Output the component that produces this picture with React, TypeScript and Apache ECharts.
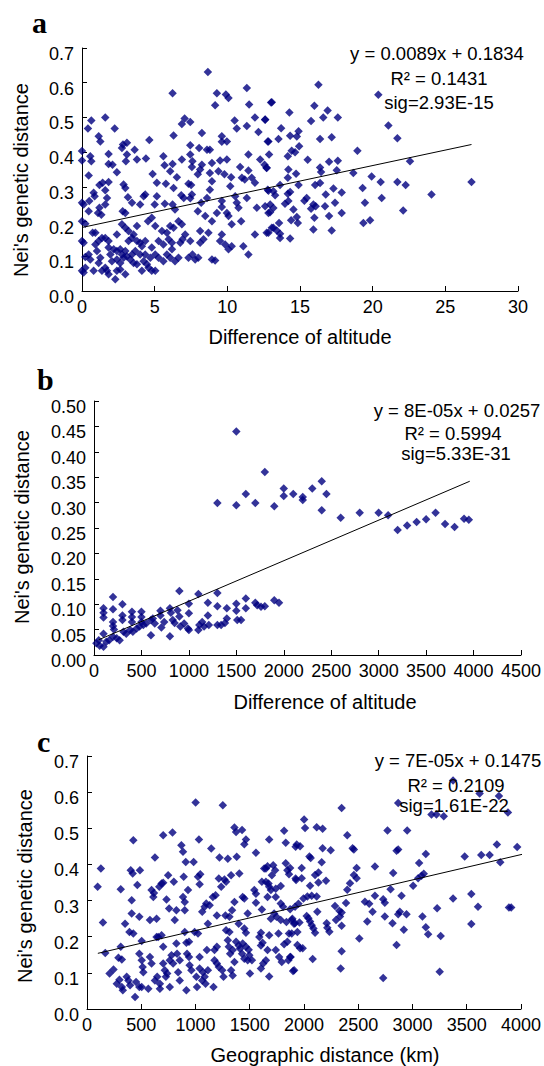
import { useEffect, useRef } from "react";
import * as echarts from "echarts";

const aPoints: number[][] = [
[8.66,0.631],[6.23,0.570],[9.28,0.570],[9.9,0.566],[10.08,0.556],[11.34,0.585],[9.16,0.535],[11.5,0.537],[13.06,0.544],[0.64,0.491],[0.41,0.468],[1.6,0.500],[2.25,0.468],[7.06,0.497],[6.87,0.481],[7.45,0.487],[10.5,0.491],[10.65,0.468],[11.9,0.500],[12.6,0.494],[12.14,0.458],[11.34,0.475],[1.15,0.446],[1.26,0.431],[4.63,0.435],[6.3,0.448],[2.82,0.422],[3.09,0.427],[2.75,0.412],[3.62,0.407],[1.83,0.395],[0,0.403],[0,0.376],[0.57,0.388],[0.64,0.374],[0.46,0.333],[3.09,0.393],[3.02,0.374],[3.78,0.379],[4.4,0.382],[1.83,0.366],[2.1,0.364],[2.4,0.342],[5.6,0.388],[7.45,0.42],[8.06,0.412],[8.6,0.407],[8.8,0.407],[8.25,0.455],[9.62,0.446],[9.62,0.43],[9.97,0.431],[7.45,0.393],[7.6,0.374],[7.56,0.357],[8.25,0.364],[8.13,0.35],[8.94,0.369],[9.5,0.376],[9.97,0.379],[6.87,0.379],[5.68,0.362],[6.23,0.366],[6.07,0.345],[6.53,0.328],[4.86,0.337],[5.15,0.312],[5.77,0.309],[6.3,0.297],[7.33,0.309],[7.51,0.305],[7.97,0.336],[8.8,0.34],[9.39,0.345],[8.94,0.316],[9.8,0.336],[10.26,0.328],[10.2,0.302],[10.88,0.357],[11.45,0.347],[11.0,0.326],[11.2,0.321],[11.68,0.326],[12.26,0.379],[12.56,0.364],[12.7,0.355],[12.87,0.393],[11.45,0.393],[12.78,0.431],[11.9,0.312],[12.78,0.292],
[0,0.254],[0.11,0.249],[0.5,0.259],[0.8,0.283],[1.2,0.305],[1.42,0.312],[1.83,0.314],[1.6,0.29],[1.72,0.268],[1.6,0.249],[0.46,0.23],[1.2,0.24],[1.1,0.225],[1.33,0.22],[0,0.201],[0.23,0.194],[0.87,0.273],[2.86,0.307],[2.98,0.297],[3.16,0.27],[3.44,0.254],[2.8,0.23],[2.98,0.225],[4.24,0.273],[4.35,0.278],[4.0,0.249],[5.0,0.249],[5.7,0.251],[5.15,0.273],[6.83,0.276],[7.0,0.268],[7.45,0.267],[7.56,0.278],[6.23,0.249],[6.4,0.235],[7.97,0.23],[8.2,0.254],[8.6,0.268],[8.8,0.292],[9.62,0.259],[9.62,0.242],[9.97,0.225],[10.08,0.216],[10.54,0.273],[10.65,0.254],[10.77,0.24],[11.34,0.268],[12.03,0.24],[12.95,0.249],[12.83,0.225],[8.48,0.216],[8.94,0.201],[9.28,0.225],[10.3,0.192],[10.95,0.201],
[0.73,0.168],[0.92,0.168],[1.37,0.153],[1.6,0.153],[0.11,0.139],[1.83,0.144],[2.4,0.163],[2.75,0.192],[2.98,0.182],[3.2,0.173],[3.78,0.187],[3.55,0.163],[4.54,0.201],[4.8,0.211],[5.04,0.187],[5.5,0.173],[5.84,0.168],[6.07,0.187],[6.3,0.182],[6.64,0.201],[6.87,0.192],[7.1,0.163],[6.92,0.149],[6.76,0.139],[7.45,0.144],[8.13,0.173],[8.7,0.168],[9.62,0.163],[9.5,0.144],[9.85,0.134],[10.08,0.12],[10.3,0.129],[11.1,0.129],[11.45,0.105],[11.9,0.163],[12.83,0.168],[13.06,0.182],[8.13,0.139],[8.36,0.149],[8.94,0.091],[9.16,0.088],[7.6,0.105],[7.33,0.096],[7.79,0.091],[8.0,0.096],
[0,0.144],[0.23,0.098],[0.46,0.105],[0.57,0.091],[0.23,0.067],[0.11,0.053],[0,0.058],[1.03,0.115],[1.26,0.096],[1.15,0.081],[1.6,0.067],[1.72,0.058],[1.95,0.105],[2.18,0.12],[2.06,0.086],[2.4,0.115],[2.63,0.12],[2.75,0.105],[2.98,0.115],[2.4,0.091],[2.63,0.081],[2.86,0.096],[2.29,0.034],[2.4,0.058],[2.63,0.062],[3.09,0.1],[3.32,0.091],[3.44,0.105],[3.55,0.081],[3.78,0.077],[4.0,0.139],[4.12,0.129],[4.35,0.144],[4.0,0.105],[4.24,0.086],[4.47,0.077],[4.58,0.067],[4.8,0.058],[5.04,0.058],[4.35,0.105],[4.7,0.096],[5.04,0.105],[5.27,0.096],[5.6,0.086],[5.84,0.105],[6.07,0.096],[6.19,0.12],[6.4,0.086],[6.64,0.096],[3.67,0.115],[3.78,0.144],[3.2,0.144],[3.44,0.153],[0.92,0.134],[1.15,0.144],[1.83,0.125],[5.27,0.144],[5.6,0.134],[5.96,0.149],[6.19,0.139],[4.8,0.125],[0.8,0.058],[1.37,0.058],[1.83,0.048],[2.98,0.048],[4.12,0.058],
[16.27,0.594],[20.39,0.565],[13.01,0.543],[15.99,0.534],[16.9,0.52],[16.6,0.5],[17.6,0.5],[14.27,0.514],[15.76,0.49],[12.6,0.493],[21.08,0.477],[13.7,0.469],[14.32,0.447],[14.78,0.445],[14.9,0.46],[13.52,0.438],[16.38,0.438],[17.18,0.443],[21.7,0.44],[12.83,0.431],[14.43,0.404],[14.66,0.4],[14.16,0.388],[14.94,0.417],[18.95,0.404],[15.53,0.378],[17.0,0.372],[17.6,0.375],[22.57,0.374],[16.38,0.356],[16.45,0.343],[17.53,0.348],[12.71,0.354],[14.2,0.35],[18.67,0.34],[14.73,0.338],[19.93,0.33],[14.16,0.326],[20.55,0.314],[21.7,0.314],[22.27,0.305],[26.8,0.314],[24.05,0.278],[19.31,0.297],[20.62,0.268],[19.47,0.254],[22.1,0.232],[19.36,0.196],[19.82,0.204],[13.63,0.305],[13.29,0.276],[14.9,0.305],[14.32,0.285],[14.16,0.28],[12.83,0.289],[13.17,0.287],[16.04,0.305],[16.38,0.311],[16.77,0.278],[17.3,0.295],[17.87,0.284],[17.41,0.254],[16.72,0.244],[15.46,0.268],[15.3,0.26],[15.92,0.249],[16.08,0.244],[15.76,0.237],[13.97,0.251],[14.2,0.259],[14.55,0.235],[13.17,0.239],[12.94,0.227],[12.6,0.244],[17.87,0.225],[17.0,0.216],[15.99,0.211],[14.39,0.204],[14.85,0.196],[14.78,0.213],[13.56,0.196],[15.92,0.177],[17.18,0.174],[13.17,0.182],[13.4,0.174],[13.63,0.165],[13.63,0.153],[14.32,0.151],[12.71,0.168]
];

const bPoints: number[][] = [
[25,0.023],[60,0.018],[100,0.016],[50,0.029],[100,0.042],[100,0.092],[100,0.083],[100,0.074],[130,0.026],[160,0.029],[200,0.036],[200,0.114],[200,0.09],[200,0.065],[200,0.057],[210,0.05],[240,0.033],[270,0.029],[300,0.1],[300,0.078],[300,0.069],[310,0.046],[340,0.042],[400,0.085],[400,0.075],[400,0.065],[380,0.049],[410,0.046],[450,0.052],[480,0.056],[500,0.085],[500,0.075],[500,0.065],[520,0.059],[550,0.062],[600,0.039],[600,0.069],[620,0.072],[640,0.062],[700,0.087],[700,0.078],[710,0.054],[740,0.065],[800,0.092],[810,0.083],[800,0.037],[830,0.069],[850,0.063],[880,0.088],[900,0.126],[900,0.076],[910,0.056],[950,0.062],[990,0.052],[1000,0.101],[1000,0.082],[1000,0.049],[1100,0.049],[1110,0.059],[1100,0.12],[1140,0.065],[1160,0.056],[1200,0.103],[1200,0.078],[1210,0.059],[1300,0.122],[1300,0.096],[1300,0.059],[1340,0.059],[1380,0.063],[1400,0.092],[1400,0.072],[1500,0.101],[1500,0.087],[1510,0.069],[1550,0.069],[1600,0.111],[1600,0.092],[1700,0.103],[1720,0.098],[1760,0.095],[1800,0.096],[1900,0.108],[1950,0.103],
[1500,0.44],[1800,0.36],[1300,0.299],[1500,0.295],[1600,0.317],[1700,0.299],[1900,0.293],[2000,0.328],[2000,0.313],[2100,0.317],[2200,0.311],[2200,0.305],[2300,0.328],[2400,0.342],[2450,0.317],[2400,0.285],[2600,0.27],[2800,0.28],[3000,0.28],[3100,0.275],[3200,0.246],[3300,0.255],[3400,0.262],[3500,0.267],[3600,0.28],[3700,0.258],[3800,0.252],[3900,0.268],[3950,0.266]
];

const cPoints: number[][] = [
[98,0.338],[128,0.389],[147,0.239],[168,0.155],[208,0.098],[244,0.109],[275,0.07],[299,0.081],[311,0.331],[311,0.172],[290,0.142],[321,0.137],[321,0.061],[330,0.052],[351,0.236],[366,0.089],[382,0.079],[391,0.213],[427,0.209],[397,0.066],[412,0.264],[412,0.301],[427,0.467],[403,0.384],[421,0.375],[443,0.033],[452,0.075],[482,0.061],[464,0.343],[488,0.384],[482,0.255],[482,0.153],[504,0.135],[513,0.116],[504,0.188],[519,0.102],[504,0.061],[565,0.056],[580,0.246],[580,0.144],[595,0.126],[595,0.329],[617,0.321],[611,0.31],[626,0.419],[641,0.25],[641,0.199],[666,0.338],[687,0.347],[702,0.349],[626,0.079],[647,0.089],[672,0.07],[672,0.056],[656,0.199],[687,0.204],[702,0.172],[702,0.126],[717,0.107],[727,0.089],[739,0.098],[702,0.481],[748,0.37],[733,0.303],[757,0.278],[788,0.488],[800,0.352],[809,0.246],[763,0.135],[779,0.149],[794,0.126],[763,0.061],[824,0.273],[824,0.181],[830,0.153],[855,0.135],[840,0.102],[855,0.079],[870,0.453],[885,0.435],[891,0.366],[885,0.31],[901,0.296],[901,0.273],[901,0.213],[916,0.183],[940,0.186],[910,0.407],[931,0.329],[922,0.153],[940,0.144],[916,0.052],[946,0.121],[962,0.107],[983,0.407],[1001,0.571],[1008,0.089],[1014,0.061],[1032,0.469],[1023,0.366],[1044,0.373],[1038,0.345],[1062,0.269],[1084,0.283],[992,0.213],[1023,0.209],[1038,0.144],[1038,0.112],[1069,0.102],[1062,0.079],[1093,0.07],[1084,0.089],[1114,0.107],[1105,0.163],[1099,0.292],[1130,0.287],[1114,0.236],[1145,0.444],[1160,0.31],[1185,0.315],[1166,0.061],[1175,0.163],[1197,0.172],[1175,0.135],[1197,0.126],[1215,0.116],[1197,0.259],[1221,0.419],[1215,0.361],[1237,0.338],[1246,0.107],[1258,0.089],[1252,0.564],[1267,0.358],[1282,0.352],[1276,0.259],[1282,0.218],[1298,0.416],[1298,0.19],[1313,0.213],[1313,0.255],[1307,0.172],[1319,0.153],[1328,0.107],[1343,0.093],[1328,0.37],[1337,0.273],[1359,0.296],[1359,0.502],[1374,0.49],[1380,0.421],[1398,0.236],[1374,0.186],[1398,0.176],[1359,0.13],[1343,0.163],[1404,0.375],[1410,0.167],[1435,0.181],[1429,0.495],[1435,0.31],[1450,0.306],[1429,0.153],[1450,0.139],[1450,0.456],[1465,0.469],[1450,0.223],[1465,0.211],[1481,0.264],[1465,0.172],[1490,0.164],[1481,0.135],[1496,0.149],[1520,0.135],[1502,0.098],[1542,0.329],[1557,0.319],[1557,0.432],[1557,0.294],[1588,0.199],[1603,0.211],[1612,0.275],[1603,0.176],[1618,0.183],[1612,0.352],[1633,0.389],[1603,0.112],[1624,0.126],[1649,0.135],[1649,0.389],[1664,0.395],[1649,0.352],[1673,0.347],[1664,0.31],[1679,0.469],[1679,0.338],[1695,0.329],[1704,0.37],[1679,0.204],[1664,0.163],[1679,0.09],[1695,0.25],[1716,0.398],[1734,0.384],[1740,0.333],[1740,0.31],[1725,0.264],[1746,0.255],[1765,0.209],[1740,0.163],[1771,0.144],[1786,0.34],[1786,0.292],[1807,0.283],[1795,0.13],[1786,0.246],[1817,0.493],[1832,0.46],[1832,0.403],[1838,0.241],[1847,0.384],[1862,0.373],[1817,0.179],[1847,0.186],[1862,0.209],[1877,0.144],[1856,0.135],[1893,0.25],[1908,0.236],[1899,0.105],[1923,0.449],[1923,0.361],[1939,0.213],
[3374,0.632],[3619,0.596],[3797,0.589],[3880,0.544],[2868,0.57],[2347,0.556],[3175,0.538],[3221,0.538],[3288,0.533],[2001,0.524],[2010,0.501],[2117,0.503],[2172,0.499],[2399,0.481],[2770,0.494],[2951,0.494],[1933,0.455],[1964,0.45],[2172,0.445],[2246,0.439],[2448,0.445],[2460,0.441],[2853,0.438],[2868,0.441],[3123,0.429],[3481,0.422],[3634,0.426],[3711,0.426],[3778,0.455],[3965,0.448],[3809,0.406],[2050,0.422],[2062,0.418],[2163,0.406],[1872,0.39],[1979,0.39],[1927,0.357],[1979,0.362],[2102,0.371],[2133,0.378],[2485,0.39],[2460,0.371],[2485,0.362],[2654,0.394],[3061,0.404],[3052,0.362],[3083,0.369],[3104,0.374],[2822,0.376],[2056,0.341],[2133,0.35],[2203,0.355],[2424,0.348],[2399,0.33],[3006,0.341],[2798,0.331],[1995,0.306],[2031,0.311],[2071,0.313],[2117,0.311],[1872,0.276],[1918,0.283],[1949,0.291],[2123,0.269],[2286,0.285],[2326,0.272],[2347,0.267],[2387,0.293],[2562,0.297],[2601,0.291],[2632,0.269],[2654,0.313],[2730,0.304],[2745,0.294],[2745,0.256],[2899,0.313],[2868,0.262],[2883,0.269],[2945,0.262],[3227,0.279],[3374,0.306],[3542,0.318],[3604,0.283],[3889,0.281],[3910,0.281],[3092,0.256],[2816,0.237],[2583,0.242],[2295,0.246],[2332,0.256],[2347,0.23],[2209,0.237],[2215,0.225],[2234,0.214],[2025,0.257],[2041,0.251],[2056,0.242],[2071,0.232],[2087,0.223],[2102,0.211],[1887,0.246],[1918,0.237],[1958,0.239],[1887,0.209],[3123,0.226],[3144,0.207],[2920,0.219],[3260,0.202],[3542,0.235],[2510,0.195],[1939,0.177],[1964,0.168],[1988,0.168],[1872,0.144],[2347,0.16],[2853,0.177],[2080,0.138],[1909,0.107],[2338,0.112],[3251,0.103],[2730,0.086]
];

// Regression lines, end points
const aTrend = [[0, 0.183], [26.8, 0.422]];
const bTrend = [[50, 0.03], [3960, 0.342]];
const cTrend = [[100, 0.154], [4140, 0.437]];

// Axis ranges
const aX = { min: 0, max: 30, interval: 5 };
const aY = { min: 0, max: 0.7, interval: 0.1 };
const bX = { min: 0, max: 4500, interval: 500 };
const bY = { min: 0, max: 0.5, interval: 0.05 };
const cX = { min: 0, max: 4000, interval: 500 };
const cY = { min: 0, max: 0.7, interval: 0.1 };

const aText = ["y = 0.0089x + 0.1834", "R² = 0.1431", "sig=2.93E-15"];
const bText = ["y = 8E-05x + 0.0257", "R² = 0.5994", "sig=5.33E-31"];
const cText = ["y = 7E-05x + 0.1475", "R² = 0.2109", "sig=1.61E-22"];

const yTitle = "Nei's genetic distance";
const aXTitle = "Difference of altitude";
const bXTitle = "Difference of altitude";
const cXTitle = "Geographic distance (km)";

const FONT = '"Liberation Sans", Arial, sans-serif';

export default function App() {
  const ref = useRef<HTMLDivElement>(null);
  useEffect(() => {
    if (!ref.current) return;
    const chart = echarts.init(ref.current, null, { renderer: "svg" });
    const grids = [
      { left: 82, top: 48, width: 436, height: 243 },
      { left: 94, top: 401, width: 428, height: 254 },
      { left: 87, top: 756, width: 435, height: 253 },
    ];
    const axisCommon = {
      type: "value",
      axisLine: { show: true, lineStyle: { color: "#000", width: 1 } },
      axisTick: { show: true, inside: true, length: 5, lineStyle: { color: "#000", width: 1 } },
      splitLine: { show: false },
    };
    const labelStyle = { color: "#000", fontSize: 18, fontFamily: FONT };
    const xs = [aX, bX, cX].map((r, i) => ({
      ...axisCommon,
      gridIndex: i,
      ...r,
      axisLabel: { ...labelStyle, margin: 7, formatter: (v: number) => String(v) },
    }));
    const ys = [aY, bY, cY].map((r, i) => ({
      ...axisCommon,
      gridIndex: i,
      ...r,
      axisLabel: {
        ...labelStyle,
        margin: 8,
        verticalAlign: "top",
        lineHeight: 12,
        formatter: (v: number) => v.toFixed(i === 1 ? 2 : 1),
      },
    }));
    const pts = [aPoints, bPoints, cPoints];
    const trends = [aTrend, bTrend, cTrend];
    const series: any[] = [];
    pts.forEach((p, i) => {
      series.push({
        type: "scatter",
        xAxisIndex: i,
        yAxisIndex: i,
        data: p,
        symbol: "diamond",
        symbolSize: 8.5,
        itemStyle: { color: "#000080" },
      });
    });
    trends.forEach((t, i) => {
      series.push({
        type: "line",
        xAxisIndex: i,
        yAxisIndex: i,
        data: t,
        showSymbol: false,
        symbol: "none",
        clip: false,
        lineStyle: { color: "#000", width: 1 },
      });
    });

    const eqFont = `18.5px ${FONT}`;
    const titleFont = `20px ${FONT}`;
    const eqPos = [
      [[437, 53], [439, 78], [439, 102]],
      [[457, 410], [453, 433], [456, 453]],
      [[458, 760], [456, 785], [454, 805]],
    ];
    const eqTexts = [aText, bText, cText];
    const graphic: any[] = [];
    eqTexts.forEach((lines, i) => {
      lines.forEach((t, j) => {
        graphic.push({
          type: "text",
          x: eqPos[i][j][0],
          y: eqPos[i][j][1],
          z: 10,
          style: { text: t, font: eqFont, fill: "#000", align: "center", verticalAlign: "middle" },
        });
      });
    });
    const xTitles = [
      [aXTitle, 300, 337],
      [bXTitle, 325, 702],
      [cXTitle, 325, 1055],
    ];
    xTitles.forEach(([t, x, y]) => {
      graphic.push({
        type: "text",
        x, y,
        style: { text: t, font: titleFont, fill: "#000", align: "center", verticalAlign: "middle" },
      });
    });
    const yTitles = [
      [21, 180],
      [22, 527],
      [25, 886],
    ];
    yTitles.forEach(([x, y]) => {
      graphic.push({
        type: "text",
        x, y,
        rotation: Math.PI / 2,
        style: { text: yTitle, font: titleFont, fill: "#000", align: "center", verticalAlign: "middle" },
      });
    });
    const letters = [
      ["a", 32, 22],
      ["b", 37, 379],
      ["c", 37, 741],
    ];
    letters.forEach(([t, x, y]) => {
      graphic.push({
        type: "text",
        x, y,
        style: { text: t, font: `bold 30px "Liberation Serif", "Times New Roman", serif`, fill: "#000", align: "left", verticalAlign: "middle" },
      });
    });

    chart.setOption({
      animation: false,
      backgroundColor: "#fff",
      textStyle: { fontFamily: FONT },
      grid: grids,
      xAxis: xs,
      yAxis: ys,
      series,
      graphic,
    });
    return () => chart.dispose();
  }, []);
  return (
    <div
      ref={ref}
      style={{ position: "absolute", left: 0, top: 0, width: 544, height: 1066 }}
    />
  );
}
